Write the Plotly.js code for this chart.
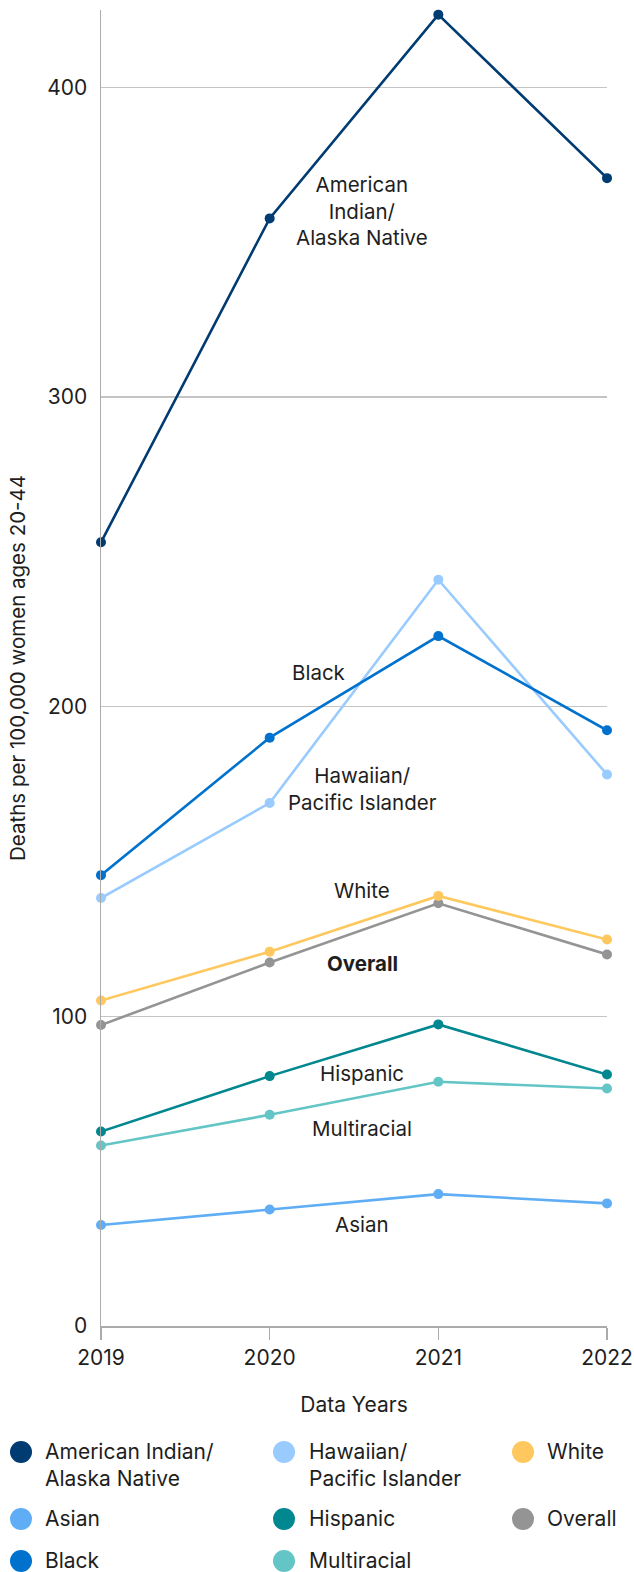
<!DOCTYPE html>
<html>
<head>
<meta charset="utf-8">
<script src="https://cdn.plot.ly/plotly-3.0.1.min.js"></script>
<style>
  html, body { margin: 0; padding: 0; background: #fff; }
  #chart { width: 634px; height: 1572px; }
</style>
</head>
<body>
<div id="chart"></div>
<script>
// Pregnancy-related death rates per 100,000 women ages 20-44, by race/ethnicity
const years = [2019, 2020, 2021, 2022];

const aianRates        = [253.1, 357.7, 423.5, 370.7];
const nhpiRates        = [138.2, 168.9, 241.0, 178.1];
const whiteRates       = [105.1, 120.9, 138.9, 124.8];
const asianRates       = [32.6, 37.6, 42.6, 39.6];
const hispanicRates    = [62.8, 80.7, 97.4, 81.2];
const overallRates     = [97.2, 117.4, 136.5, 120.0];
const blackRates       = [145.6, 190.0, 222.8, 192.4];
const multiracialRates = [58.3, 68.2, 78.9, 76.7];

const seriesNames = [
  "American Indian/<br>Alaska Native",
  "Hawaiian/<br>Pacific Islander",
  "White",
  "Asian",
  "Hispanic",
  "Overall",
  "Black",
  "Multiracial"
];
const seriesValues = [aianRates, nhpiRates, whiteRates, asianRates,
                      hispanicRates, overallRates, blackRates, multiracialRates];
const seriesColors = ["#003B71", "#99CBFF", "#FFC85F", "#5FAEF5",
                      "#00878F", "#949494", "#0072CE", "#63C5C5"];

const yTicks = [0, 100, 200, 300, 400];

// Inline series labels drawn next to the lines (data coordinates)
const lineLabels = [
  { text: "American<br>Indian/<br>Alaska Native", x: 2020.55, y: 360.2, bold: false },
  { text: "Black", x: 2020.29, y: 211.2, bold: false },
  { text: "Hawaiian/<br>Pacific Islander", x: 2020.55, y: 173.5, bold: false },
  { text: "White", x: 2020.55, y: 140.6, bold: false },
  { text: "Overall", x: 2020.55, y: 117.0, bold: true },
  { text: "Hispanic", x: 2020.55, y: 81.7, bold: false },
  { text: "Multiracial", x: 2020.55, y: 63.9, bold: false },
  { text: "Asian", x: 2020.55, y: 32.8, bold: false }
];

const W = 634, H = 1572;
const M = { l: 101, r: 27, t: 10, b: 246 };
const FONT = "Inter, 'Noto Sans', Arial, sans-serif";
const TEXT = "#1e1e1e";
const FS = 21;

const px2paperX = X => (X - M.l) / (W - M.l - M.r);
const px2paperY = Y => (H - M.b - Y) / (H - M.t - M.b);

// Draw order: lower series first so the upper lines sit on top
const drawOrder = [3, 7, 4, 5, 2, 1, 6, 0];
const traces = drawOrder.map(i => ({
  type: "scatter",
  mode: "lines+markers",
  x: years,
  y: seriesValues[i],
  name: seriesNames[i],
  line: { color: seriesColors[i], width: 2.6 },
  marker: { color: seriesColors[i], size: 10 },
  cliponaxis: false,
  showlegend: false,
  hoverinfo: "x+y"
}));

const annotations = lineLabels.map(l => ({
  xref: "x", yref: "y", x: l.x, y: l.y,
  text: l.bold ? "<b>" + l.text + "</b>" : l.text,
  showarrow: false, xanchor: "center", yanchor: "middle", align: "center",
  font: { family: FONT, size: 20.5, color: TEXT }
}));

// Legend: three columns of circle swatches with names
const legendRowY = [1452, 1519, 1561];
const legendDotX = [21, 284, 523];
const legendTextX = [43, 307, 545];
const shapes = [];
seriesNames.forEach((name, i) => {
  const col = i % 3, row = Math.floor(i / 3);
  const cx = px2paperX(legendDotX[col]);
  const cy = px2paperY(legendRowY[row]);
  shapes.push({
    type: "circle", xref: "paper", yref: "paper",
    xsizemode: "pixel", ysizemode: "pixel",
    xanchor: cx, yanchor: cy,
    x0: -11, x1: 11, y0: -11, y1: 11,
    fillcolor: seriesColors[i], line: { width: 0 }
  });
  annotations.push({
    xref: "paper", yref: "paper",
    x: px2paperX(legendTextX[col]), y: px2paperY(legendRowY[row] - 15),
    text: name, showarrow: false, xanchor: "left", yanchor: "top", align: "left",
    font: { family: FONT, size: FS, color: TEXT }
  });
});

const layout = {
  width: W, height: H,
  margin: M,
  paper_bgcolor: "#fff", plot_bgcolor: "#fff",
  font: { family: FONT, size: FS, color: TEXT },
  showlegend: false,
  xaxis: {
    range: [2019, 2022],
    tickvals: years,
    ticktext: years.map(String),
    showgrid: false, zeroline: false,
    showline: true, linecolor: "#ababab", linewidth: 1.5,
    ticks: "outside", ticklen: 12, tickcolor: "#ababab", tickwidth: 1.5,
    tickfont: { family: FONT, size: FS, color: TEXT },
    title: { text: "Data Years", standoff: 28, font: { family: FONT, size: FS, color: TEXT } },
    automargin: false,
    fixedrange: true
  },
  yaxis: {
    range: [0, 425],
    tickvals: yTicks,
    showgrid: true, gridcolor: "#c4c4c4", gridwidth: 1.2,
    zeroline: false,
    showline: true, linecolor: "#ababab", linewidth: 1.5,
    ticks: "", ticklabelstandoff: 8,
    tickfont: { family: FONT, size: FS, color: TEXT },
    title: { text: "Deaths per 100,000 women ages 20-44", standoff: 16,
             font: { family: FONT, size: 20.5, color: TEXT } },
    automargin: false,
    fixedrange: true
  },
  shapes: shapes,
  annotations: annotations
};

Plotly.newPlot("chart", traces, layout, { displayModeBar: false, staticPlot: true });
</script>
</body>
</html>
